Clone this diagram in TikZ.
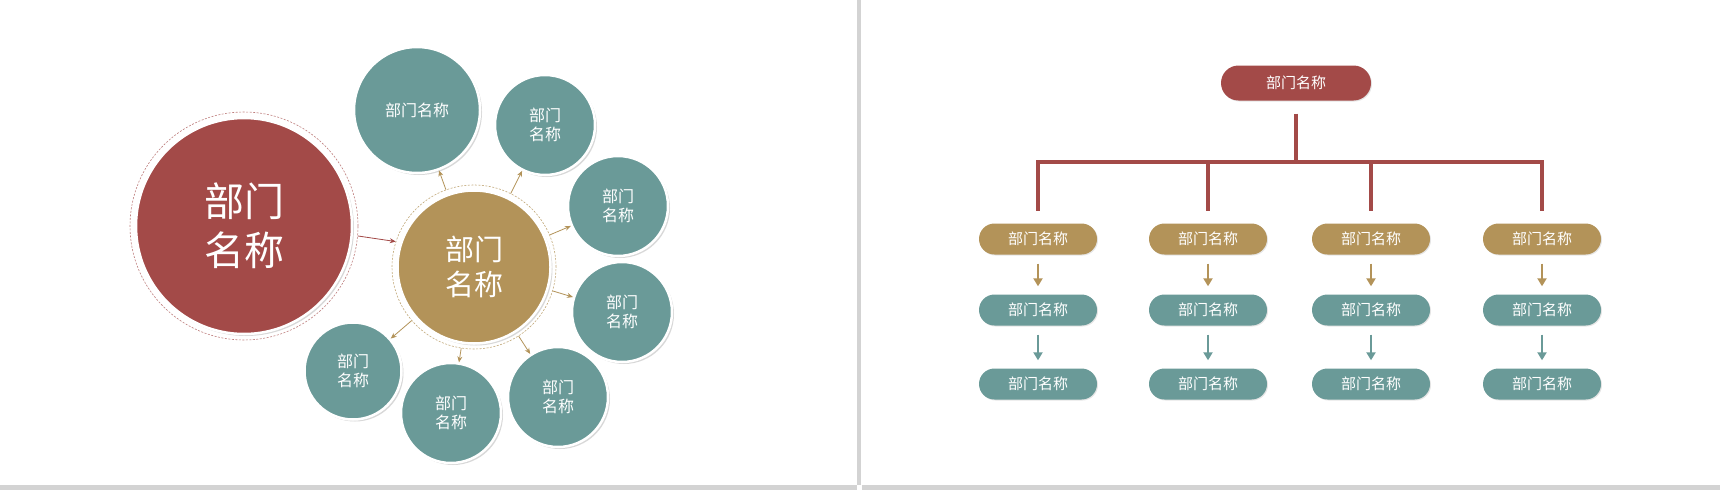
\documentclass[tikz,border=0pt]{standalone}
\usepackage{fontspec}
\setmainfont{Noto Sans CJK SC}
\usetikzlibrary{shadows,arrows.meta}
\definecolor{hong}{HTML}{A34A48}
\definecolor{jin}{HTML}{B39359}
\definecolor{qing}{HTML}{6A9A98}
\definecolor{hui}{HTML}{D3D3D3}
\tikzset{
  rond/.style={circle,draw=white,line width=2.5pt,text=white,align=center,inner sep=0pt,
    drop shadow={opacity=0.3,shadow xshift=2pt,shadow yshift=-2pt}},
  anneau/.style={circle,draw=#1,dashed,dash pattern=on 2pt off 1.5pt,line width=0.6pt,inner sep=0pt},
  petit/.style={rond,fill=qing,minimum size=100,font=\fontsize{16}{19}\selectfont},
  fleche/.style={draw=#1,line width=0.8pt,-{Stealth[length=6pt,width=5pt]}},
  pilule/.style={rectangle,rounded corners=15.5pt,minimum width=118,minimum height=31,
    inner sep=0pt,text=white,font=\fontsize{15}{18}\selectfont,
    drop shadow={opacity=0.2,shadow xshift=1pt,shadow yshift=-1pt}},
  barre/.style={draw=hong,line width=3.5pt},
  descente/.style={draw=#1,line width=2pt,shorten <=9,shorten >=8,-{Triangle[length=8pt,width=9pt]}}
}
\begin{document}
\begin{tikzpicture}[x=1pt,y=-1pt]
            \fill[white] (0,0) rectangle (1720,490);
            \useasboundingbox (0,0) rectangle (1720,490);
            \fill[hui] (857,0) rectangle (861,485);
            \fill[hui] (0,485) rectangle (857,490);
            \fill[hui] (862,485) rectangle (1720,490);

            \node[anneau=hong!70,minimum size=228] (rougeanneau) at (244,226) {};
            \node[rond,fill=hong,minimum size=216,font=\fontsize{40}{49}\selectfont] (rouge) at (244,226) {部门\\名称};
            \node[anneau=jin!80,minimum size=164] (oranneau) at (474,267) {};
            \node[rond,fill=jin,minimum size=153,font=\fontsize{29}{35}\selectfont] (or) at (474,267) {部门\\名称};
            \node[petit,minimum size=126] (t1) at (417,110) {部门名称};
            \node[petit] (t2) at (545,125) {部门\\名称};
            \node[petit] (t3) at (618,206) {部门\\名称};
            \node[petit] (t4) at (622,312) {部门\\名称};
            \node[petit] (t5) at (558,397) {部门\\名称};
            \node[petit] (t6) at (451,413) {部门\\名称};
            \node[petit,minimum size=97] (t7) at (353,371) {部门\\名称};
            \draw[fleche=hong] (rougeanneau.-5) -- (oranneau.162);
            \foreach \t in {t1,t2,t3,t4,t5,t6,t7}
              \draw[fleche=jin] (oranneau) -- (\t);

            \node[pilule,fill=hong,minimum width=150,minimum height=35,rounded corners=17.5pt] (tete) at (1296,83) {部门名称};
            \coordinate (noeud) at (1296,162);
            \draw[barre,shorten <=13] (tete) -- (noeud);
            \foreach \i/\x in {1/1038,2/1208,3/1371,4/1542} {
              \coordinate (b\i) at (\x,162);
              \node[pilule,fill=jin] (o\i) at (\x,239) {部门名称};
              \node[pilule,fill=qing] (m\i) at (\x,310) {部门名称};
              \node[pilule,fill=qing] (n\i) at (\x,384) {部门名称};
              \draw[barre,shorten >=12] (b\i) -- (o\i);
              \draw[descente=jin] (o\i) -- (m\i);
              \draw[descente=qing] (m\i) -- (n\i);
            }
            \draw[barre,line cap=rect] (b1) -- (b4);
\end{tikzpicture}
\end{document}
